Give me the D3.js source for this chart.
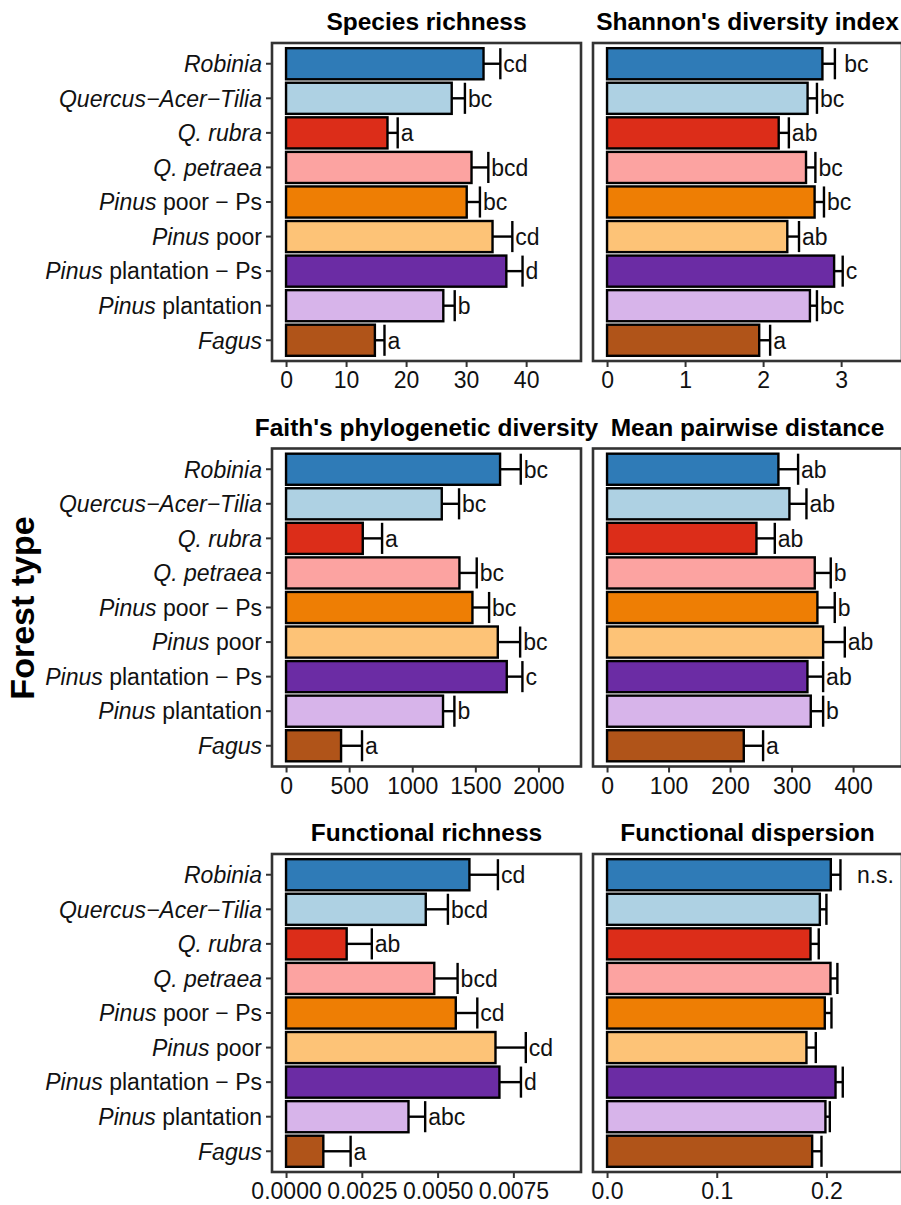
<!DOCTYPE html>
<html>
<head>
<meta charset="utf-8">
<script src="https://cdn.jsdelivr.net/npm/d3@7"></script>
<style>
  body { margin: 0; background: #fff; }
  svg { font-family: "Liberation Sans", Arial, Helvetica, sans-serif; }
</style>
</head>
<body>
<svg id="chart" width="901" height="1205"></svg>
<script>
// forest types, top to bottom (italic part / regular part)
const forestTypes = [
  ["Robinia", ""],
  ["Quercus\u2212Acer\u2212Tilia", ""],
  ["Q. rubra", ""],
  ["Q. petraea", ""],
  ["Pinus", " poor \u2212 Ps"],
  ["Pinus", " poor"],
  ["Pinus", " plantation \u2212 Ps"],
  ["Pinus", " plantation"],
  ["Fagus", ""]
];
const typeColors = ["#2f7bb7", "#aed1e3", "#dc2d19", "#fca3a1", "#ee7e04",
                    "#fdc377", "#6b2ca4", "#d7b4ea", "#b05419"];

// means and standard errors, same order as forestTypes
const richnessMean = [32.9, 27.6, 16.9, 30.9, 30.1, 34.4, 36.7, 26.2, 14.8];
const richnessSE   = [2.8, 2.2, 1.7, 2.8, 2.2, 3.3, 2.7, 1.9, 1.6];
const richnessLetters = ["cd", "bc", "a", "bcd", "bc", "cd", "d", "b", "a"];

const shannonMean = [2.76, 2.57, 2.20, 2.55, 2.66, 2.31, 2.91, 2.60, 1.95];
const shannonSE   = [0.16, 0.12, 0.13, 0.12, 0.12, 0.15, 0.11, 0.09, 0.14];
const shannonLetters = [" bc", "bc", "ab", "bc", "bc", "ab", "c", "bc", "a"];

const faithMean = [1696, 1234, 608, 1374, 1477, 1678, 1749, 1244, 436];
const faithSE   = [164, 137, 153, 137, 132, 177, 124, 90, 166];
const faithLetters = ["bc", "bc", "a", "bc", "bc", "bc", "c", "b", "a"];

const mpdMean = [278.6, 296.5, 242.9, 337.7, 342.0, 351.3, 325.8, 331.2, 222.3];
const mpdSE   = [32.0, 27.7, 29.8, 26.0, 28.2, 35.2, 25.5, 20.1, 31.4];
const mpdLetters = ["ab", "ab", "ab", "b", "b", "ab", "ab", "b", "a"];

const fricMean = [0.00605, 0.00461, 0.00200, 0.00489, 0.00560, 0.00691, 0.00704, 0.00404, 0.00123];
const fricSE   = [0.00094, 0.00073, 0.00083, 0.00077, 0.00071, 0.00100, 0.00071, 0.00055, 0.00090];
const fricLetters = ["cd", "bcd", "ab", "bcd", "cd", "cd", "d", "abc", "a"];

const fdisMean = [0.204, 0.194, 0.1855, 0.2037, 0.1985, 0.1818, 0.2083, 0.1991, 0.187];
const fdisSE   = [0.0088, 0.006, 0.0075, 0.0063, 0.0061, 0.0085, 0.0066, 0.004, 0.0085];
const fdisNote = "n.s.";

const panels = [
  { title: "Species richness", mean: richnessMean, se: richnessSE, letters: richnessLetters,
    range: 46.8, ticks: [0, 10, 20, 30, 40], fmt: d3.format("d"), col: 0, row: 0 },
  { title: "Shannon's diversity index", mean: shannonMean, se: shannonSE, letters: shannonLetters,
    range: 3.6, ticks: [0, 1, 2, 3], fmt: d3.format("d"), col: 1, row: 0 },
  { title: "Faith's phylogenetic diversity", mean: faithMean, se: faithSE, letters: faithLetters,
    range: 2226, ticks: [0, 500, 1000, 1500, 2000], fmt: d3.format("d"), col: 0, row: 1 },
  { title: "Mean pairwise distance", mean: mpdMean, se: mpdSE, letters: mpdLetters,
    range: 456.7, ticks: [0, 100, 200, 300, 400], fmt: d3.format("d"), col: 1, row: 1 },
  { title: "Functional richness", mean: fricMean, se: fricSE, letters: fricLetters,
    range: 0.009268, ticks: [0, 0.0025, 0.005, 0.0075], fmt: d3.format(".4f"), col: 0, row: 2 },
  { title: "Functional dispersion", mean: fdisMean, se: fdisSE, letters: null, note: fdisNote,
    range: 0.2561, ticks: [0, 0.1, 0.2], fmt: d3.format(".1f"), col: 1, row: 2 }
];

// layout
const colLeft = [272, 593];
const rowTop = [43, 448.5, 854];
const pw = 309, ph = 318;
const frame = "#333333";
const textSize = 23;

const svg = d3.select("#chart");

panels.forEach(p => {
  const x0 = colLeft[p.col], y0 = rowTop[p.row];
  const g = svg.append("g").attr("transform", `translate(${x0},${y0})`);

  const x = d3.scaleLinear()
    .domain([-0.05 * p.range, 1.05 * p.range])
    .range([0, pw]);
  const y = d3.scaleBand()
    .domain(d3.range(forestTypes.length))
    .range([0, ph])
    .paddingInner(0.1)
    .paddingOuter(0.15);

  const rows = p.mean.map((m, i) => ({ i, m, se: p.se[i], lab: p.letters ? p.letters[i] : "" }));

  // bars
  g.selectAll(".bar")
    .data(rows)
    .enter().append("rect")
    .attr("class", "bar")
    .attr("x", x(0))
    .attr("y", d => y(d.i))
    .attr("width", d => x(d.m) - x(0))
    .attr("height", y.bandwidth())
    .attr("fill", d => typeColors[d.i])
    .attr("stroke", "#000")
    .attr("stroke-width", 2.4);

  // error bars (upper half)
  g.selectAll(".err")
    .data(rows)
    .enter().append("line")
    .attr("x1", d => x(d.m))
    .attr("x2", d => x(d.m + d.se))
    .attr("y1", d => y(d.i) + y.bandwidth() / 2)
    .attr("y2", d => y(d.i) + y.bandwidth() / 2)
    .attr("stroke", "#000")
    .attr("stroke-width", 2.4);
  g.selectAll(".cap")
    .data(rows)
    .enter().append("line")
    .attr("x1", d => x(d.m + d.se))
    .attr("x2", d => x(d.m + d.se))
    .attr("y1", d => y(d.i))
    .attr("y2", d => y(d.i) + y.bandwidth())
    .attr("stroke", "#000")
    .attr("stroke-width", 2.4);

  // significance letters
  g.selectAll(".letter")
    .data(rows.filter(d => d.lab))
    .enter().append("text")
    .attr("x", d => x(d.m + d.se) + 3)
    .attr("y", d => y(d.i) + y.bandwidth() / 2)
    .attr("dy", "0.36em")
    .attr("font-size", textSize)
    .attr("fill", "#111")
    .style("white-space", "pre")
    .text(d => d.lab);

  if (p.note) {
    g.append("text")
      .attr("x", pw - 8)
      .attr("y", y(0) + y.bandwidth() / 2)
      .attr("dy", "0.36em")
      .attr("text-anchor", "end")
      .attr("font-size", textSize)
      .attr("fill", "#111")
      .text(p.note);
  }

  // panel frame
  g.append("rect")
    .attr("width", pw).attr("height", ph)
    .attr("fill", "none")
    .attr("stroke", frame)
    .attr("stroke-width", 2.6);

  // x axis
  const xAxis = g.append("g")
    .attr("transform", `translate(0,${ph})`)
    .call(d3.axisBottom(x).tickValues(p.ticks).tickFormat(p.fmt).tickSize(6).tickPadding(5));
  xAxis.select(".domain").remove();
  xAxis.selectAll("line").attr("stroke", frame).attr("stroke-width", 2);
  xAxis.selectAll("text").attr("font-size", textSize).attr("fill", "#111").attr("font-family", null);

  // y axis only on left column
  if (p.col === 0) {
    const yAxis = g.append("g")
      .call(d3.axisLeft(y).tickSize(6).tickPadding(4).tickFormat(""));
    yAxis.select(".domain").remove();
    yAxis.selectAll("line").attr("stroke", frame).attr("stroke-width", 2);
    yAxis.selectAll(".tick text").each(function(i) {
      const t = d3.select(this)
        .attr("font-size", textSize).attr("fill", "#111").attr("font-family", null)
        .attr("dy", "0.36em");
      t.append("tspan").attr("font-style", "italic").text(forestTypes[i][0]);
      if (forestTypes[i][1]) t.append("tspan").text(forestTypes[i][1]);
    });
  }

  // title
  svg.append("text")
    .attr("x", x0 + pw / 2)
    .attr("y", y0 - 13)
    .attr("text-anchor", "middle")
    .attr("font-size", 24.5)
    .attr("font-weight", "bold")
    .attr("fill", "#000")
    .text(p.title);
});

// shared y axis title
svg.append("text")
  .attr("transform", "translate(34,608) rotate(-90)")
  .attr("text-anchor", "middle")
  .attr("font-size", 34)
  .attr("font-weight", "bold")
  .attr("fill", "#000")
  .text("Forest type");
</script>
</body>
</html>
